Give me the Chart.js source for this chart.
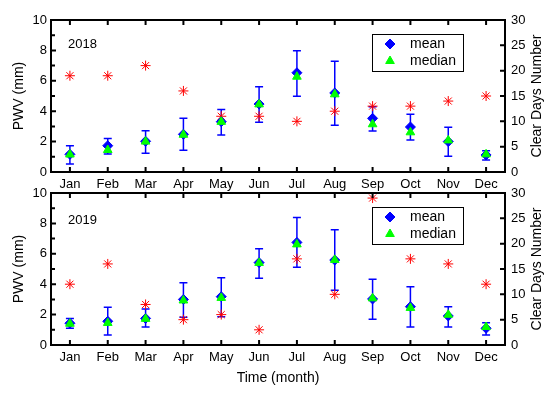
<!DOCTYPE html>
<html>
<head>
<meta charset="utf-8">
<script src="https://cdn.jsdelivr.net/npm/chart.js@4"></script>
<style>
body { margin: 0; background: #fff; }
.box { position: absolute; left: 0; width: 559px; }
</style>
</head>
<body>
<div class="box" style="top:0;height:196px"><canvas id="chart2018"></canvas></div>
<div class="box" style="top:173px;height:223px"><canvas id="chart2019"></canvas></div>
<script>
var months = ["Jan","Feb","Mar","Apr","May","Jun","Jul","Aug","Sep","Oct","Nov","Dec"];
var pwvTicks = [0, 2, 4, 6, 8, 10];
var dayTicks = [0, 5, 10, 15, 20, 25, 30];

// 2018
var mean2018   = [1.16, 1.73, 2.02, 2.48, 3.31, 4.47, 6.53, 5.20, 3.53, 2.96, 2.00, 1.12];
var median2018 = [1.15, 1.45, 2.00, 2.45, 3.30, 4.45, 6.27, 5.11, 3.14, 2.61, 2.08, 1.16];
var upper2018  = [1.73, 2.20, 2.72, 3.53, 4.12, 5.61, 7.98, 7.28, 4.30, 3.80, 2.94, 1.40];
var lower2018  = [0.53, 1.18, 1.23, 1.43, 2.43, 3.27, 4.98, 3.07, 2.70, 2.10, 1.03, 0.79];
var clear2018  = [19, 19, 21, 16, 11, 11, 10, 12, 13, 13, 14, 15];

// 2019
var mean2019   = [1.43, 1.56, 1.75, 3.00, 3.18, 5.42, 6.75, 5.59, 3.03, 2.52, 1.91, 1.10];
var median2019 = [1.40, 1.45, 1.72, 2.93, 3.10, 5.40, 6.62, 5.60, 3.07, 2.44, 1.99, 1.18];
var upper2019  = [1.75, 2.48, 2.37, 4.10, 4.43, 6.34, 8.38, 7.59, 4.32, 3.84, 2.52, 1.47];
var lower2019  = [1.10, 0.66, 1.18, 1.82, 1.86, 4.39, 5.11, 3.60, 1.69, 1.18, 1.18, 0.66];
var clear2019  = [12, 16, 8, 5, 6, 3, 17, 10, 29, 17, 16, 12];

var FONT = "'Liberation Sans', Arial, sans-serif";
Chart.defaults.font.family = FONT;
Chart.defaults.color = "#000";

// error bars, frame, ticks, legend and year label
var panelPlugin = {
    id: "panel",
    beforeDatasetsDraw: function (chart, args, opts) {
        var ctx = chart.ctx, xs = chart.scales.x, ys = chart.scales.y;
        ctx.save();
        ctx.strokeStyle = "#0000ff";
        ctx.lineWidth = 1.5;
        for (var i = 0; i < months.length; i++) {
            var x = xs.getPixelForValue(i);
            var yHi = ys.getPixelForValue(opts.upper[i]);
            var yLo = ys.getPixelForValue(opts.lower[i]);
            ctx.beginPath();
            ctx.moveTo(x, yHi); ctx.lineTo(x, yLo);
            ctx.moveTo(x - 4, yHi); ctx.lineTo(x + 4, yHi);
            ctx.moveTo(x - 4, yLo); ctx.lineTo(x + 4, yLo);
            ctx.stroke();
        }
        ctx.restore();
    },
    afterDraw: function (chart, args, opts) {
        var ctx = chart.ctx, a = chart.chartArea;
        var xs = chart.scales.x, ys = chart.scales.y, ys2 = chart.scales.y2;
        ctx.save();
        ctx.strokeStyle = "#000";
        ctx.lineWidth = 2;
        ctx.strokeRect(a.left, a.top, a.right - a.left, a.bottom - a.top);
        ctx.beginPath();
        for (var i = 0; i < months.length; i++) {
            var x = xs.getPixelForValue(i);
            ctx.moveTo(x, a.bottom); ctx.lineTo(x, a.bottom - 5);
            ctx.moveTo(x, a.top); ctx.lineTo(x, a.top + 5);
        }
        for (var v = 0; v <= 10; v++) {
            var y = ys.getPixelForValue(v);
            ctx.moveTo(a.left, y); ctx.lineTo(a.left + (v % 2 == 0 ? 5 : 4), y);
        }
        dayTicks.forEach(function (d) {
            var y = ys2.getPixelForValue(d);
            ctx.moveTo(a.right, y); ctx.lineTo(a.right - 5, y);
        });
        ctx.stroke();

        // right axis title
        ctx.fillStyle = "#000";
        ctx.font = "14px " + FONT;
        ctx.textAlign = "center";
        ctx.textBaseline = "middle";
        ctx.translate(537, (a.top + a.bottom) / 2);
        ctx.rotate(-Math.PI / 2);
        ctx.fillText("Clear Days Number", 0, 0);
        ctx.restore();

        // year
        ctx.save();
        ctx.fillStyle = "#000";
        ctx.font = "13px " + FONT;
        ctx.textBaseline = "middle";
        ctx.fillText(opts.year, 68, a.top + opts.yearOffset);

        // legend
        ctx.lineWidth = 1;
        ctx.strokeStyle = "#000";
        ctx.strokeRect(372.5, a.top + 14.5, 91, 37);
        ctx.fillStyle = "#0000ff"; ctx.strokeStyle = "#0000ff";
        Chart.helpers.drawPoint(ctx, {pointStyle: "rectRot", radius: 5, borderWidth: 1}, 390, a.top + 24);
        ctx.fillStyle = "#00ff00"; ctx.strokeStyle = "#00ff00";
        Chart.helpers.drawPoint(ctx, {pointStyle: "triangle", radius: 5, borderWidth: 1}, 390, a.top + 41);
        ctx.fillStyle = "#000";
        ctx.font = "14px " + FONT;
        ctx.fillText("mean", 410, a.top + 24);
        ctx.fillText("median", 410, a.top + 41);
        ctx.restore();
    }
};

function makeChart(id, year, mean, median, upper, lower, clear, xHeight, showTitle, yearOffset) {
    var config = {
        type: "line",
        data: {
            labels: months,
            datasets: [{
                label: "median",
                data: median,
                showLine: false,
                pointStyle: "triangle",
                pointRadius: 5,
                backgroundColor: "#00ff00",
                borderColor: "#00ff00",
                borderWidth: 1,
                order: 1
            }, {
                label: "mean",
                data: mean,
                showLine: false,
                pointStyle: "rectRot",
                pointRadius: 5,
                backgroundColor: "#0000ff",
                borderColor: "#0000ff",
                borderWidth: 1,
                order: 2
            }, {
                label: "clear days",
                data: clear,
                yAxisID: "y2",
                showLine: false,
                pointStyle: "star",
                pointRadius: 5,
                backgroundColor: "#ff0000",
                borderColor: "#ff0000",
                borderWidth: 1,
                order: 3
            }]
        },
        options: {
            responsive: true,
            maintainAspectRatio: false,
            animation: false,
            layout: { padding: { top: 20, left: 0, right: 0, bottom: 0 } },
            plugins: {
                legend: { display: false },
                tooltip: { enabled: false },
                panel: { year: year, upper: upper, lower: lower, yearOffset: yearOffset }
            },
            scales: {
                x: {
                    type: "category",
                    offset: true,
                    grid: { display: false, drawTicks: false },
                    border: { display: false },
                    ticks: { font: { size: 13 }, padding: 5, maxRotation: 0 },
                    title: {
                        display: showTitle,
                        text: "Time (month)",
                        font: { size: 14 },
                        padding: { top: 0, bottom: 9 }
                    },
                    afterFit: function (s) { s.height = xHeight; }
                },
                y: {
                    position: "left",
                    min: 0, max: 10,
                    grid: { display: false, drawTicks: false },
                    border: { display: false },
                    ticks: { stepSize: 2, font: { size: 13 }, padding: 4 },
                    title: {
                        display: true,
                        text: "PWV (mm)",
                        font: { size: 14 },
                        padding: { top: 11, bottom: 0 }
                    },
                    afterFit: function (s) { s.width = 51; }
                },
                y2: {
                    position: "right",
                    min: 0, max: 30,
                    grid: { display: false, drawTicks: false },
                    border: { display: false },
                    ticks: { stepSize: 5, font: { size: 13 }, padding: 6 },
                    afterFit: function (s) { s.width = 54; }
                }
            }
        },
        plugins: [panelPlugin]
    };
    return new Chart(document.getElementById(id), config);
}

var chart2018 = makeChart("chart2018", "2018", mean2018, median2018, upper2018, lower2018, clear2018, 24, false, 24);
var chart2019 = makeChart("chart2019", "2019", mean2019, median2019, upper2019, lower2019, clear2019, 51, true, 27);
</script>
</body>
</html>
